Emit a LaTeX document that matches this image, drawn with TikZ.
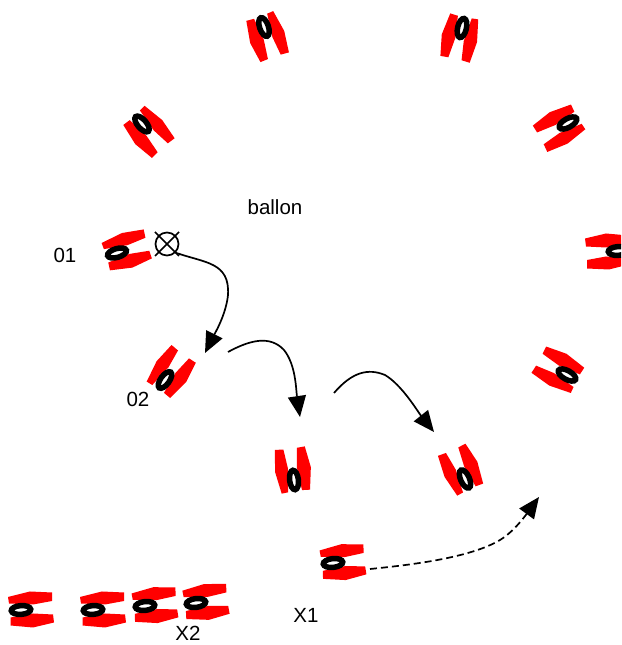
\documentclass[tikz,border=0pt]{standalone}
\usepackage{fontspec}
\setmainfont{Liberation Sans}
\usetikzlibrary{arrows.meta}
\newcommand{\carshape}[3]{%
\begin{scope}[shift={(#1,645-#2)},rotate=#3]
\fill[carred] (-13,13)--(9,18.5)--(31,17.5)--(31,9)--(12,5.5)--(-12,6.5)--cycle;
\fill[carred] (-10.5,-7.5)--(-10.5,-15.5)--(12,-17.5)--(33,-12.5)--(32,-4.5)--(12,-3.5)--cycle;
\draw[tyre,rotate=4] (0,0) ellipse (9.75 and 4.4);
\end{scope}}
\definecolor{carred}{RGB}{255,0,0}
\tikzset{
  x=1pt,y=1pt,
  tyre/.style={draw=black,fill=white,line width=5.5pt},
  lab/.style={font=\fontsize{20.5}{22}\selectfont,text=black,inner sep=0pt},
  conn/.style={draw=black,line width=1.7pt,-{Stealth[length=21pt,width=18pt,inset=0pt]}},
  connd/.style={conn,dash pattern=on 7pt off 4pt},
  valve/.style={draw=black,line width=1.7pt}
}
\begin{document}
\begin{tikzpicture}
\useasboundingbox (0,0) rectangle (621,645);
\begin{scope}
\clip (0,0) rectangle (621,645);
\carshape{264}{27}{-75}
\carshape{462}{28}{-107}
\carshape{142}{124}{-53}
\carshape{568}{123}{-155}
\carshape{618}{251}{180}
\carshape{567}{375}{147}
\carshape{465}{479}{110}
\carshape{294}{480}{93}
\carshape{165}{380}{50}
\carshape{117}{253}{12}
\carshape{333}{563}{2}
\carshape{21}{610}{0}
\carshape{93}{610}{0}
\carshape{145}{606}{2}
\carshape{196}{603}{3}
\end{scope}
\node[lab] (ballon) at (275,645-207) {ballon};
\node[lab] (l01) at (65,645-255) {01};
\node[lab] (l02) at (138,645-399) {02};
\node[lab] (x1) at (306,645-615) {X1};
\node[lab,anchor=base] (x2) at (188,645-640) {X2};
\node[circle,draw=black,line width=1.7pt,minimum size=23pt,inner sep=0pt] (v) at (167,645-244) {};
\draw[valve] (155,645-232)--(179,645-256) (179,645-232)--(155,645-256);
\coordinate (a1s) at (v.-45);
\coordinate (a1e) at (205,645-353);
\coordinate (a2s) at (228,645-352);
\coordinate (a2e) at (300,645-417);
\coordinate (a3s) at (334,645-393);
\coordinate (a3e) at (434,645-432);
\coordinate (a4s) at (370,645-569);
\coordinate (a4e) at (539,645-497);
\draw[conn] (a1s) .. controls (205,645-263) and (230,645-262) .. (228,645-295) .. controls (226,645-315) and (214,645-335) .. (a1e);
\draw[conn] (a2s) .. controls (250,645-340) and (270,645-335) .. (284,645-350) .. controls (296,645-365) and (296,645-390) .. (a2e);
\draw[conn] (a3s) .. controls (352,645-372) and (368,645-368) .. (385,645-375) .. controls (402,645-385) and (418,645-412) .. (a3e);
\draw[connd] (a4s) .. controls (410,645-565) and (470,645-558) .. (500,645-540) .. controls (515,645-531) and (528,645-512) .. (a4e);
\end{tikzpicture}
\end{document}
